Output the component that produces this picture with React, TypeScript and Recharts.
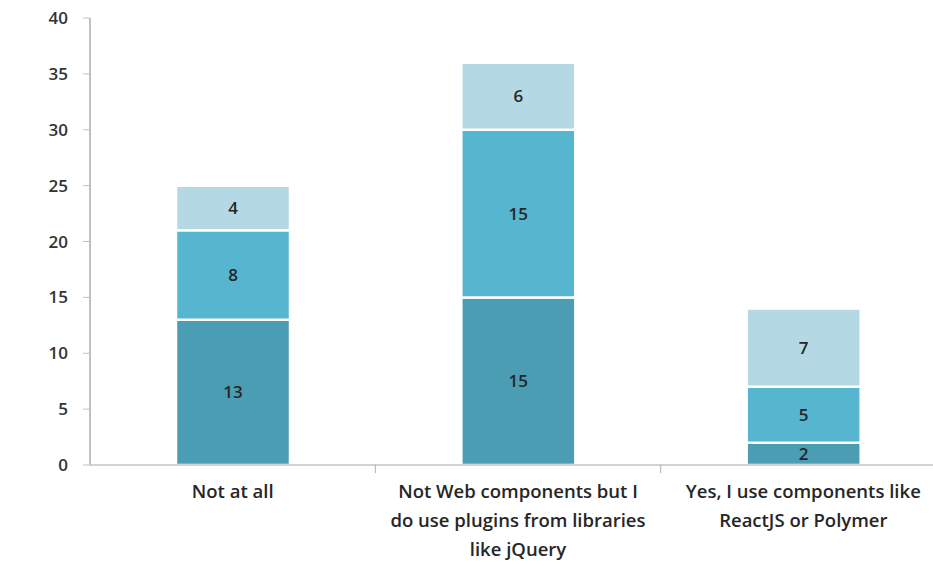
import React from 'react';
import { BarChart, Bar, XAxis, YAxis, LabelList } from 'recharts';

const categories = [
  'Not at all',
  'Not Web components but I do use plugins from libraries like jQuery',
  'Yes, I use components like ReactJS or Polymer',
];
const categoryLines = [
  ['Not at all'],
  ['Not Web components but I', 'do use plugins from libraries', 'like jQuery'],
  ['Yes, I use components like', 'ReactJS or Polymer'],
];
const darkValues = [13, 15, 2];
const mediumValues = [8, 15, 5];
const lightValues = [4, 6, 7];
const yTicks = [0, 5, 10, 15, 20, 25, 30, 35, 40];

const CHART_W = 960;
const CHART_H = 566;
const Y_AXIS_W = 90;
const MARGIN = { top: 18, right: 14, left: 0, bottom: 0 };
const BAND = (CHART_W - MARGIN.left - MARGIN.right - Y_AXIS_W) / categories.length;

const FONT = '"Open Sans", "Noto Sans", sans-serif';

function CategoryTick(props: any) {
  const { x, y, payload, index } = props;
  const lines = categoryLines[index] || [payload.value];
  return (
    <g>
      {index > 0 && (
        <line x1={x - BAND / 2} x2={x - BAND / 2} y1={y - 8} y2={y} stroke="#b0b0b0" strokeWidth={1} />
      )}
      <text x={x} y={y + 25} textAnchor="middle" fill="#262626" fontSize={18.5} fontWeight={600} fontFamily={FONT}>
        {lines.map((line: string, i: number) => (
          <tspan key={i} x={x} dy={i === 0 ? 0 : 29}>
            {line}
          </tspan>
        ))}
      </text>
    </g>
  );
}

export default function App() {
  const data = categories.map((name, i) => ({
    name,
    dark: darkValues[i],
    medium: mediumValues[i],
    light: lightValues[i],
  }));

  const labelStyle = { fill: '#262626', fontSize: 17, fontWeight: 600, fontFamily: FONT };

  return (
    <div
      style={{
        position: 'absolute',
        left: 0,
        top: 0,
        width: 933,
        height: 566,
        overflow: 'hidden',
        background: '#fff',
      }}
    >
      <BarChart width={CHART_W} height={CHART_H} data={data} margin={MARGIN} barSize={114}>
        <XAxis
          dataKey="name"
          axisLine={{ stroke: '#a6a6a6' }}
          tickLine={false}
          interval={0}
          height={101}
          tick={<CategoryTick />}
        />
        <YAxis
          width={Y_AXIS_W}
          domain={[0, 40]}
          ticks={yTicks}
          interval={0}
          axisLine={{ stroke: '#c0c0c0', strokeWidth: 2 }}
          tickLine={{ stroke: '#c0c0c0' }}
          tickSize={7}
          tickMargin={15}
          tick={{ fill: '#333', fontSize: 17, fontWeight: 600, fontFamily: FONT }}
        />
        <Bar dataKey="dark" stackId="a" fill="#4a9db3" stroke="#fff" strokeWidth={2.5} isAnimationActive={false}>
          <LabelList dataKey="dark" position="center" {...labelStyle} />
        </Bar>
        <Bar dataKey="medium" stackId="a" fill="#56b5cf" stroke="#fff" strokeWidth={2.5} isAnimationActive={false}>
          <LabelList dataKey="medium" position="center" {...labelStyle} />
        </Bar>
        <Bar dataKey="light" stackId="a" fill="#b5d9e4" stroke="#fff" strokeWidth={2.5} isAnimationActive={false}>
          <LabelList dataKey="light" position="center" {...labelStyle} />
        </Bar>
      </BarChart>
    </div>
  );
}
